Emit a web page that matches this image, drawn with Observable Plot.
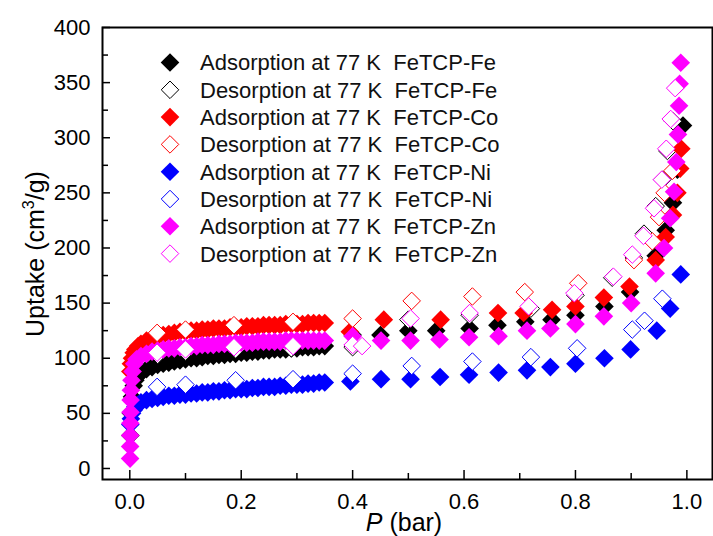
<!DOCTYPE html>
<html><head><meta charset="utf-8">
<script src="https://cdn.jsdelivr.net/npm/d3@7"></script>
<script src="https://cdn.jsdelivr.net/npm/@observablehq/plot@0.6"></script>
<style>body{margin:0;background:#fff}</style>
</head><body><div id="chart"></div>
<script>
// ---- data: [P (bar), uptake (cm3/g)] ----
const feAds = [[0.001,30],[0.002,50],[0.004,65],[0.007,75],[0.01,80],[0.015,84],[0.02,87],[0.03,90],[0.04,92],[0.05,94],[0.06,95],[0.07,96],[0.08,97],[0.09,98],[0.10,99],[0.11,100],[0.12,100],[0.13,101],[0.14,102],[0.15,102],[0.16,103],[0.17,103],[0.18,104],[0.19,104],[0.20,105],[0.21,105],[0.22,106],[0.23,106],[0.24,107],[0.25,107],[0.26,108],[0.27,108],[0.28,108],[0.29,109],[0.30,109],[0.31,110],[0.32,110],[0.33,110],[0.34,111],[0.35,111],[0.40,121],[0.45,121],[0.50,125],[0.55,125],[0.61,127],[0.66,130],[0.71,133],[0.757,135],[0.80,139],[0.852,147],[0.898,160],[0.944,193],[0.962,216],[0.975,241],[0.983,271],[0.993,311]];
const feDes = [[0.05,103],[0.10,106],[0.19,108],[0.29,109],[0.40,110],[0.50,135],[0.61,139],[0.72,145],[0.80,157],[0.866,173],[0.905,191],[0.923,213],[0.944,238],[0.956,262],[0.965,288],[0.975,315]];
const coAds = [[0.001,88],[0.002,95],[0.004,100],[0.007,105],[0.01,108],[0.015,111],[0.02,113],[0.03,116],[0.04,118],[0.05,120],[0.06,121],[0.07,122],[0.08,123],[0.09,124],[0.10,124],[0.11,125],[0.12,125],[0.13,126],[0.14,126],[0.15,127],[0.16,127],[0.17,127],[0.18,128],[0.19,128],[0.20,128],[0.21,129],[0.22,129],[0.23,129],[0.24,130],[0.25,130],[0.26,130],[0.27,130],[0.28,131],[0.29,131],[0.30,131],[0.31,131],[0.32,132],[0.33,132],[0.34,132],[0.35,132],[0.395,124],[0.456,135],[0.558,135],[0.661,141],[0.707,141],[0.758,144],[0.80,147],[0.851,155],[0.897,165],[0.944,189],[0.962,210],[0.975,230],[0.983,250],[0.988,272],[0.99,290]];
const coDes = [[0.049,123],[0.10,126],[0.187,130],[0.293,133],[0.40,136],[0.506,152],[0.615,156],[0.709,160],[0.805,168],[0.905,189],[0.938,206],[0.95,228],[0.96,250],[0.974,270]];
const niAds = [[0.001,40],[0.002,45],[0.004,50],[0.007,53],[0.01,56],[0.015,58],[0.02,60],[0.03,62],[0.04,63],[0.05,64],[0.06,65],[0.07,66],[0.08,66],[0.09,67],[0.10,67],[0.11,68],[0.12,68],[0.13,69],[0.14,69],[0.15,70],[0.16,70],[0.17,71],[0.18,71],[0.19,72],[0.20,72],[0.21,72],[0.22,73],[0.23,73],[0.24,74],[0.25,74],[0.26,74],[0.27,75],[0.28,75],[0.29,76],[0.30,76],[0.31,76],[0.32,77],[0.33,77],[0.34,78],[0.35,78],[0.396,79],[0.451,81],[0.504,81],[0.557,83],[0.609,85],[0.662,87],[0.713,89],[0.755,92],[0.80,95],[0.852,100],[0.899,108],[0.946,125],[0.97,145],[0.989,176]];
const niDes = [[0.049,74],[0.10,76],[0.19,80],[0.293,81],[0.40,86],[0.506,93],[0.615,97],[0.72,101],[0.803,109],[0.902,126],[0.924,134],[0.956,154]];
const znAds = [[0.0005,9],[0.0006,20],[0.0008,30],[0.001,41],[0.0012,51],[0.0015,62],[0.002,71],[0.003,80],[0.005,88],[0.008,95],[0.012,99],[0.02,102],[0.03,104],[0.04,106],[0.05,107],[0.06,108],[0.07,109],[0.08,109],[0.09,110],[0.10,110],[0.11,111],[0.12,111],[0.13,112],[0.14,112],[0.15,112],[0.16,113],[0.17,113],[0.18,113],[0.19,114],[0.20,114],[0.21,114],[0.22,114],[0.23,115],[0.24,115],[0.25,115],[0.26,115],[0.27,115],[0.28,116],[0.29,116],[0.30,116],[0.31,116],[0.32,116],[0.33,116],[0.34,116],[0.35,116],[0.40,120],[0.451,116],[0.504,116],[0.556,117],[0.609,119],[0.662,120],[0.713,125],[0.755,127],[0.80,131],[0.851,138],[0.90,150],[0.944,177],[0.959,200],[0.970,227],[0.977,251],[0.981,278],[0.984,303],[0.986,329],[0.987,349],[0.989,368]];
const znDes = [[0.049,105],[0.10,108],[0.187,110],[0.293,111],[0.40,112],[0.417,111],[0.504,136],[0.61,141],[0.716,147],[0.798,159],[0.868,174],[0.902,194],[0.922,211],[0.941,236],[0.955,262],[0.963,290],[0.971,317],[0.979,345]];

const seriesNames = ["Adsorption at 77 K  FeTCP-Fe","Desorption at 77 K  FeTCP-Fe","Adsorption at 77 K  FeTCP-Co","Desorption at 77 K  FeTCP-Co","Adsorption at 77 K  FeTCP-Ni","Desorption at 77 K  FeTCP-Ni","Adsorption at 77 K  FeTCP-Zn","Desorption at 77 K  FeTCP-Zn"];
const seriesData = [feAds, feDes, coAds, coDes, niAds, niDes, znAds, znDes];
const seriesColors = ["#000000","#000000","#ff0000","#ff0000","#0000ff","#0000ff","#ff00ff","#ff00ff"];
const seriesFilled = [true,false,true,false,true,false,true,false];

const xMajor = [0,0.2,0.4,0.6,0.8,1.0];
const xMinor = [0.1,0.3,0.5,0.7,0.9];
const yMajor = [0,50,100,150,200,250,300,350,400];
const yMinor = [25,75,125,175,225,275,325,375];

const FONT = "Arial, 'Liberation Sans', sans-serif";
const R = 8.4;

const dotMarks = seriesData.map((d, i) => Plot.dot(d.map(([p,u]) => ({p, u})), {
  x: "p", y: "u", symbol: "diamond2",
  r: seriesFilled[i] ? R : R - 0.5,
  fill: seriesFilled[i] ? seriesColors[i] : "#ffffff",
  stroke: seriesFilled[i] ? "none" : seriesColors[i],
  strokeWidth: 1
}));

const chart = Plot.plot({
  width: 713, height: 536,
  marginLeft: 102, marginRight: 1, marginTop: 27, marginBottom: 57,
  style: {fontFamily: FONT, fontSize: "22px", background: "#fff", color: "#000"},
  x: {domain: [-0.049, 1.046]},
  y: {domain: [-10, 400]},
  marks: [
    ...dotMarks,
    Plot.axisX({ticks: xMajor, tickSize: -9, fill: "none", label: null, strokeWidth: 1.5}),
    Plot.axisX({ticks: xMinor, tickSize: -6, fill: "none", label: null, strokeWidth: 1.5}),
    Plot.axisX({ticks: xMajor, tickSize: 0, tickPadding: 14, tickFormat: d3.format(".1f"), label: null, fontSize: 22}),
    Plot.axisY({ticks: yMajor, tickSize: -8, fill: "none", label: null, strokeWidth: 1.5}),
    Plot.axisY({ticks: yMinor, tickSize: -6, fill: "none", label: null, strokeWidth: 1.5}),
    Plot.axisY({ticks: yMajor, tickSize: 0, tickPadding: 12, textAnchor: "end", tickFormat: d3.format("d"), label: null, fontSize: 22}),
    Plot.frame({stroke: "#000", strokeWidth: 2})
  ]
});

const svg = d3.select(chart);
// legend
const lg = svg.append("g").attr("font-family", FONT).attr("font-size", 22).attr("text-anchor", "start");
seriesNames.forEach((name, i) => {
  const y = 62.5 + i * 27.3;
  const size = Math.PI * R * R;
  lg.append("path")
    .attr("d", d3.symbol(d3.symbolDiamond2, seriesFilled[i] ? size : Math.PI * (R-0.5) * (R-0.5))())
    .attr("transform", `translate(170,${y})`)
    .attr("fill", seriesFilled[i] ? seriesColors[i] : "#fff")
    .attr("stroke", seriesFilled[i] ? "none" : seriesColors[i])
    .attr("stroke-width", 1);
  lg.append("text").attr("x", 200).attr("y", y).attr("dy", "0.36em")
    .attr("text-anchor", "start")
    .style("white-space", "pre").attr("fill", "#111").text(name);
});
// axis titles
const yl = svg.append("text").attr("font-family", FONT).attr("font-size", 25)
  .attr("text-anchor", "middle").attr("transform", "translate(44,254) rotate(-90)");
yl.append("tspan").text("Uptake (cm");
yl.append("tspan").attr("font-size", 16).attr("dy", -10).text("3");
yl.append("tspan").attr("dy", 10).text("/g)");
const xl = svg.append("text").attr("font-family", FONT).attr("font-size", 25)
  .attr("text-anchor", "middle").attr("x", 404).attr("y", 531);
xl.append("tspan").attr("font-style", "italic").text("P");
xl.append("tspan").style("white-space", "pre").text(" (bar)");

document.getElementById("chart").appendChild(chart);
</script>
</body></html>
